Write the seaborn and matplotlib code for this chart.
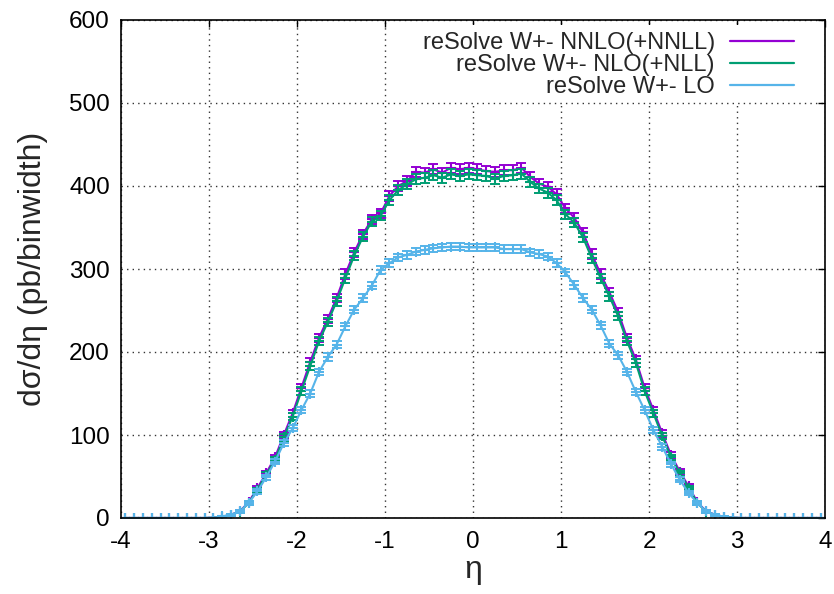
import numpy as np
import pandas as pd
import matplotlib
matplotlib.use("Agg")
import matplotlib.pyplot as plt
from matplotlib.lines import Line2D
import seaborn as sns

# ---- data ----
eta = [round(-3.95 + 0.1 * i, 2) for i in range(80)]

zeros10 = [0.0] * 10

nnlo_core = [0.3, 1.5, 4, 8, 19, 36, 54, 73, 100, 126,
             157, 188, 217, 240, 265, 294, 320, 342, 360, 367,
             388, 400, 406, 417, 416, 420, 416, 422, 420, 422,
             420, 418, 417, 419, 419, 422, 411, 403, 399, 390,
             373, 362, 344, 318, 294, 272, 248, 217, 191, 157,
             130, 102, 76, 56, 38, 19, 8, 4, 1.5, 0.3]
nlo_core = [0.3, 1.4, 3.8, 7.5, 18, 34, 52, 70, 97, 122,
            153, 183, 213, 236, 261, 289, 316, 339, 357, 364,
            383, 395, 402, 408, 410, 413, 410, 414, 412, 414,
            413, 412, 409, 412, 413, 415, 405, 397, 392, 383,
            366, 356, 338, 313, 289, 267, 243, 213, 187, 153,
            126, 99, 73, 54, 36, 18, 7.5, 3.8, 1.4, 0.3]
lo_core = [0.4, 2, 4, 8, 18, 32, 49, 68, 90, 108,
           130, 150, 176, 194, 209, 231, 251, 265, 280, 299,
           307, 314, 317, 321, 323, 325, 326, 327, 327, 326,
           326, 326, 326, 324, 324, 324, 320, 318, 315, 307,
           296, 281, 265, 251, 232, 210, 196, 176, 152, 130,
           106, 86, 65, 46, 30, 18, 8, 4, 1.5, 0.4]

nnlo_err_core = [0.2, 0.5, 1, 1.5, 2, 2.5, 3, 3.5, 4, 4,
                 4.5, 4.5, 5, 5, 5, 5.5, 5.5, 5.5, 5.5, 5.5,
                 6, 6, 6, 6, 6, 6, 6, 6, 6, 6,
                 6, 6, 6, 6, 6, 6, 6, 6, 6, 6,
                 5.5, 5.5, 5.5, 5.5, 5.5, 5, 5, 5, 4.5, 4.5,
                 4, 4, 3.5, 3, 2.5, 2, 1.5, 1, 0.5, 0.2]
nlo_err_core = [0.2, 0.5, 1, 1.5, 2, 2.5, 3, 3.5, 4, 4,
                4.5, 4.5, 5, 5, 5, 5.5, 5.5, 5.5, 5.5, 5.5,
                6, 6, 6, 6, 6, 6, 6, 6, 6, 6,
                6, 6, 6, 6, 6, 6, 6, 6, 6, 6,
                5.5, 5.5, 5.5, 5.5, 5.5, 5, 5, 5, 4.5, 4.5,
                4, 4, 3.5, 3, 2.5, 2, 1.5, 1, 0.5, 0.2]
lo_err_core = [0.2, 0.5, 1, 1.5, 2, 2.5, 3, 3, 3.5, 3.5,
               4, 4, 4, 4.5, 4.5, 4.5, 4.5, 4.5, 4.5, 4.5,
               4.5, 4.5, 4.5, 4.5, 4.5, 4.5, 4.5, 4.5, 4.5, 4.5,
               4.5, 4.5, 4.5, 4.5, 4.5, 4.5, 4.5, 4.5, 4.5, 4.5,
               4.5, 4.5, 4.5, 4.5, 4.5, 4.5, 4.5, 4, 4, 4,
               3.5, 3.5, 3, 3, 2.5, 2, 1.5, 1, 0.5, 0.2]

nnlo = zeros10 + nnlo_core + zeros10
nlo = zeros10 + nlo_core + zeros10
lo = zeros10 + lo_core + zeros10
nnlo_err = zeros10 + nnlo_err_core + zeros10
nlo_err = zeros10 + nlo_err_core + zeros10
lo_err = zeros10 + lo_err_core + zeros10

labels = ["reSolve W+- NNLO(+NNLL)", "reSolve W+- NLO(+NLL)", "reSolve W+- LO"]
colors = ["#9400d3", "#009e73", "#56b4e9"]
x_ticks = [-4, -3, -2, -1, 0, 1, 2, 3, 4]
y_ticks = [0, 100, 200, 300, 400, 500, 600]

df = pd.concat([
    pd.DataFrame({"eta": eta, "val": nnlo, "err": nnlo_err, "series": labels[0]}),
    pd.DataFrame({"eta": eta, "val": nlo, "err": nlo_err, "series": labels[1]}),
    pd.DataFrame({"eta": eta, "val": lo, "err": lo_err, "series": labels[2]}),
])

# ---- style ----
sns.set_theme(style="white")
plt.rcParams["font.family"] = ["Liberation Sans", "DejaVu Sans"]

fig = plt.figure(figsize=(8.34, 5.94), dpi=100)
ax = fig.add_axes([121 / 834, 76 / 594, 704 / 834, 498 / 594])

for lab, col in zip(labels, colors):
    sub = df[df["series"] == lab]
    sns.lineplot(data=sub, x="eta", y="val", color=col, lw=1.5, ax=ax,
                 legend=False, marker="+", markersize=7, markeredgewidth=1.5,
                 markeredgecolor=col, zorder=3)
    ax.errorbar(sub["eta"], sub["val"], yerr=sub["err"], fmt="none",
                ecolor=col, elinewidth=1.4, capsize=3.5, capthick=1.4, zorder=3)

ax.set_xlim(-4, 4)
ax.set_ylim(0, 600)
ax.set_xticks(x_ticks)
ax.set_yticks(y_ticks)
ax.set_xticklabels([str(t) for t in x_ticks])
ax.set_yticklabels([str(t) for t in y_ticks])
ax.tick_params(axis="both", direction="in", length=5, width=1, colors="black",
               labelsize=17.5, top=True, right=True, pad=8)
ax.tick_params(axis="x", pad=9)
for s in ax.spines.values():
    s.set_color("black")
    s.set_linewidth(1.2)
    s.set_zorder(7)
ax.grid(True, color="black", linestyle=(0, (1, 3)), linewidth=1.0, alpha=0.8)
ax.set_axisbelow(True)
# vertical grid lines below the legend box, horizontal ones above it, data above all
ax.xaxis.set_zorder(0.5)
ax.yaxis.set_zorder(2.5)

ax.set_xlabel("η", fontsize=23, labelpad=2)
ax.set_ylabel("dσ/dη (pb/binwidth)", fontsize=23, labelpad=15)

handles = [Line2D([0], [0], color=c, lw=1.6) for c in colors]
leg = ax.legend(handles, labels, loc="upper right", frameon=True,
                facecolor="white", edgecolor="none", framealpha=1.0,
                fancybox=False, borderpad=0.3,
                markerfirst=False, fontsize=17, handlelength=2.7,
                labelspacing=0.0, borderaxespad=0.0, handletextpad=0.65,
                bbox_to_anchor=(0.966, 0.99))
leg.set_zorder(2)
for t in leg.get_texts():
    t.set_ha("right")

fig.savefig("out.png", dpi=100, facecolor="white")
